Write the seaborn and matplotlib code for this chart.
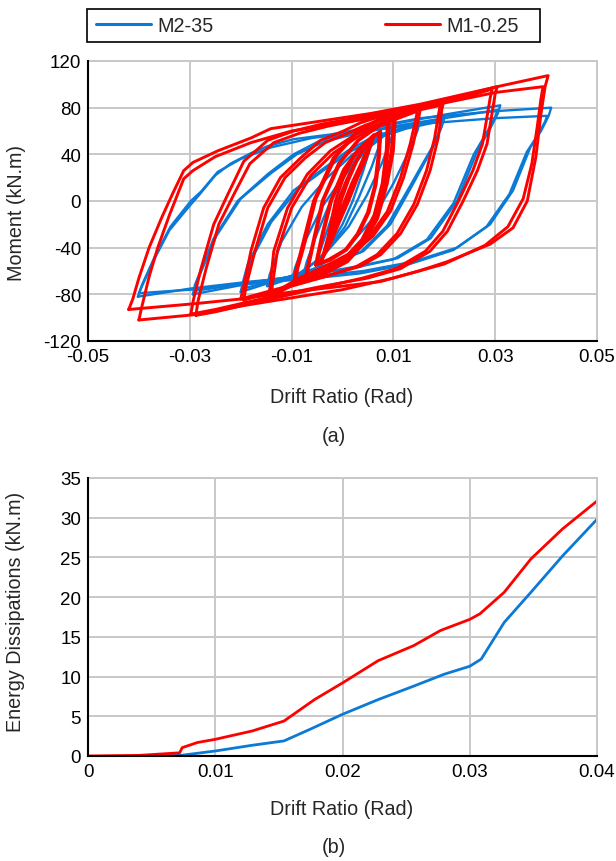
import numpy as np
import pandas as pd
import matplotlib
matplotlib.use("Agg")
import matplotlib.pyplot as plt
import seaborn as sns
from matplotlib.lines import Line2D
from matplotlib.patches import Rectangle

# ---------------- data ----------------
SERIES = ["M2-35", "M1-0.25"]
COLORS = ["#0a7ad6", "#ff0000"]

X_TICKS_A = [-0.05, -0.03, -0.01, 0.01, 0.03, 0.05]
X_LABELS_A = ["-0.05", "-0.03", "-0.01", "0.01", "0.03", "0.05"]
Y_TICKS_A = [-120, -80, -40, 0, 40, 80, 120]
X_TICKS_B = [0, 0.01, 0.02, 0.03, 0.04]
X_LABELS_B = ["0", "0.01", "0.02", "0.03", "0.04"]
Y_TICKS_B = [0, 5, 10, 15, 20, 25, 30, 35]

# --- M1-0.25 (red) hysteresis cycles: drift (rad), moment (kN.m)
R40A_D = [-0.0420, -0.0412, -0.0400, -0.0380, -0.0355, -0.0333, -0.0312, -0.0294, -0.0245, -0.0180, -0.0141, -0.0050, 0.0055, 0.0153, 0.0304, 0.0404,
          0.0398, 0.0390, 0.0380, 0.0363, 0.0335, 0.0290, 0.0206, 0.0150, 0.0075, 0.0000, -0.0100, -0.0200, -0.0290, -0.0420]
R40A_M = [-93, -84, -66, -40, -14, 7, 26, 33, 43, 54, 62, 68, 75, 83, 98, 107.5,
          98, 75, 38, 0, -23, -37, -52, -60, -69, -73, -78, -84, -88, -93]
R40B_D = [-0.0400, -0.0395, -0.0380, -0.0363, -0.0340, -0.0312, -0.0294, -0.0250, -0.0180, -0.0100, 0.0000, 0.0100, 0.0200, 0.0300, 0.0394,
          0.0390, 0.0383, 0.0372, 0.0355, 0.0325, 0.0280, 0.0200, 0.0100, 0.0000, -0.0100, -0.0200, -0.0280, -0.0400]
R40B_M = [-102, -92, -65, -40, -12, 19, 26, 38, 50, 60, 67, 75, 84, 93, 98,
          88, 65, 32, 2, -22, -38, -54, -66, -76, -83, -90, -97, -102]
R30A_D = [-0.0298, -0.0293, -0.0278, -0.0253, -0.0225, -0.0194, -0.0147, -0.0096, -0.0040, 0.0050, 0.0150, 0.0250, 0.0304,
          0.0300, 0.0284, 0.0265, 0.0237, 0.0206, 0.0172, 0.0114, 0.0050, -0.0050, -0.0150, -0.0250, -0.0298]
R30A_M = [-97, -85, -58, -20, 6, 34, 52, 60, 66, 73, 82, 92, 98,
          92, 49, 26, 0, -26, -43, -58, -66, -74, -83, -93, -97]
R30B_D = [-0.0288, -0.0284, -0.0268, -0.0243, -0.0213, -0.0182, -0.0135, -0.0085, -0.0030, 0.0050, 0.0150, 0.0250, 0.0294,
          0.0290, 0.0275, 0.0256, 0.0228, 0.0197, 0.0163, 0.0105, 0.0040, -0.0050, -0.0150, -0.0250, -0.0288]
R30B_M = [-98, -86, -58, -20, 6, 32, 50, 58, 64, 71, 80, 90, 96,
          88, 49, 26, 0, -26, -43, -58, -66, -75, -85, -95, -98]
R20A_D = [-0.0200, -0.0195, -0.0180, -0.0155, -0.0122, -0.0082, -0.0043, 0.0002, 0.0035, 0.0100, 0.0198,
          0.0195, 0.0188, 0.0172, 0.0147, 0.0114, 0.0075, 0.0035, -0.0030, -0.0100, -0.0200]
R20A_M = [-84, -75, -43, -6, 20, 37, 52, 60, 67, 76, 84,
          78, 54, 26, -3, -28, -46, -56, -64, -72, -84]
R20B_D = [-0.0194, -0.0190, -0.0172, -0.0147, -0.0113, -0.0073, -0.0034, 0.0010, 0.0045, 0.0100, 0.0192,
          0.0189, 0.0181, 0.0165, 0.0140, 0.0107, 0.0068, 0.0028, -0.0035, -0.0100, -0.0194]
R20B_M = [-85, -74, -43, -6, 20, 37, 50, 58, 65, 73, 82,
          75, 54, 26, -3, -28, -46, -56, -65, -73, -85]
R15A_D = [-0.0145, -0.0142, -0.0135, -0.0108, -0.0069, -0.0024, 0.0029, 0.0080, 0.0153,
          0.0150, 0.0139, 0.0120, 0.0094, 0.0060, 0.0020, -0.0030, -0.0080, -0.0145]
R15A_M = [-83, -72, -43, -6, 23, 43, 58, 68, 79,
          72, 49, 20, -9, -30, -45, -58, -68, -83]
R15B_D = [-0.0140, -0.0137, -0.0128, -0.0100, -0.0062, -0.0018, 0.0033, 0.0080, 0.0147,
          0.0144, 0.0133, 0.0114, 0.0088, 0.0054, 0.0014, -0.0035, -0.0085, -0.0140]
R15B_M = [-80, -70, -43, -6, 22, 41, 56, 66, 77,
          70, 49, 20, -9, -30, -45, -56, -66, -80]
R10A_D = [-0.0096, -0.0092, -0.0082, -0.0057, -0.0018, 0.0029, 0.0075, 0.0104,
          0.0100, 0.0088, 0.0069, 0.0041, 0.0010, -0.0037, -0.0096]
R10A_M = [-71, -60, -43, 0, 37, 60, 71, 73,
          43, 15, -15, -37, -52, -63, -71]
R10B_D = [-0.0092, -0.0088, -0.0077, -0.0052, -0.0013, 0.0032, 0.0075, 0.0100,
          0.0096, 0.0084, 0.0065, 0.0037, 0.0006, -0.0038, -0.0092]
R10B_M = [-69, -58, -41, 2, 38, 60, 70, 71,
          43, 15, -15, -37, -51, -61, -69]
R07A_D = [-0.0073, -0.0068, -0.0058, -0.0040, -0.0008, 0.0030, 0.0068, 0.0092,
          0.0090, 0.0082, 0.0066, 0.0042, 0.0012, -0.0030, -0.0073]
R07A_M = [-66, -55, -35, 0, 32, 52, 64, 69,
          45, 15, -12, -33, -48, -59, -66]
R07B_D = [-0.0070, -0.0065, -0.0055, -0.0036, -0.0004, 0.0032, 0.0068, 0.0088,
          0.0086, 0.0078, 0.0062, 0.0038, 0.0008, -0.0032, -0.0070]
R07B_M = [-64, -53, -33, 2, 33, 52, 63, 67,
          44, 15, -12, -33, -47, -58, -64]
R05A_D = [-0.0053, -0.0049, -0.0040, -0.0024, 0.0002, 0.0030, 0.0058, 0.0075,
          0.0073, 0.0066, 0.0052, 0.0032, 0.0008, -0.0025, -0.0053]
R05A_M = [-55, -46, -28, 0, 27, 44, 55, 60,
          40, 14, -10, -28, -42, -51, -55]
R05B_D = [-0.0050, -0.0046, -0.0037, -0.0021, 0.0005, 0.0032, 0.0058, 0.0072,
          0.0070, 0.0063, 0.0049, 0.0029, 0.0005, -0.0027, -0.0050]
R05B_M = [-54, -45, -27, 1, 27, 44, 54, 58,
          39, 13, -10, -28, -42, -50, -54]
RC1_D = [-0.0043, -0.0038, -0.0028, -0.0014, 0.0002, 0.0020, 0.0040, 0.0062,
         0.0058, 0.0046, 0.0030, 0.0012, -0.0006, -0.0025, -0.0043]
RC1_M = [-52, -46, -30, 0, 20, 36, 48, 57,
         50, 36, 20, 0, -18, -38, -52]
RC2_D = [-0.0040, -0.0035, -0.0024, -0.0008, 0.0008, 0.0026, 0.0045, 0.0060,
         0.0054, 0.0040, 0.0024, 0.0008, -0.0010, -0.0028, -0.0040]
RC2_M = [-50, -43, -28, 0, 18, 34, 47, 55,
         48, 34, 18, 0, -18, -38, -50]
RC3_D = [-0.0038, -0.0030, -0.0018, -0.0003, 0.0012, 0.0030, 0.0048, 0.0058,
         0.0050, 0.0034, 0.0018, 0.0004, -0.0012, -0.0028, -0.0038]
RC3_M = [-48, -38, -22, 0, 18, 36, 50, 54,
         46, 30, 15, 0, -17, -36, -48]

# --- M2-35 (blue) hysteresis cycles
B40A_D = [-0.0402, -0.0395, -0.0370, -0.0340, -0.0300, -0.0282, -0.0250, -0.0220, -0.0180, -0.0147, -0.0096, -0.0024, 0.0055, 0.0153, 0.0300, 0.0410,
          0.0405, 0.0390, 0.0369, 0.0335, 0.0290, 0.0225, 0.0139, 0.0041, -0.0024, -0.0180, -0.0298, -0.0402]
B40A_M = [-82, -74, -50, -25, -4, 5, 22, 32, 41, 47, 53, 57, 63, 71, 77, 80,
          73, 60, 46, 9, -20, -40, -52, -60, -63, -69, -75, -82]
B40B_D = [-0.0400, -0.0393, -0.0368, -0.0338, -0.0298, -0.0278, -0.0245, -0.0200, -0.0140, -0.0060, 0.0050, 0.0150, 0.0300, 0.0402,
          0.0398, 0.0383, 0.0362, 0.0328, 0.0283, 0.0218, 0.0132, 0.0035, -0.0030, -0.0180, -0.0298, -0.0400]
B40B_M = [-79, -71, -47, -22, 0, 8, 25, 36, 46, 54, 60, 66, 71, 73,
          68, 56, 42, 6, -22, -42, -54, -62, -65, -71, -76, -79]
B30A_D = [-0.0294, -0.0290, -0.0253, -0.0206, -0.0147, -0.0096, -0.0043, 0.0010, 0.0100, 0.0200, 0.0310,
          0.0305, 0.0290, 0.0265, 0.0225, 0.0173, 0.0108, 0.0030, -0.0024, -0.0150, -0.0294]
B30A_M = [-80, -72, -32, 0, 23, 40, 52, 58, 66, 74, 82,
          75, 62, 43, 0, -32, -49, -56, -60, -68, -80]
B30B_D = [-0.0290, -0.0286, -0.0248, -0.0200, -0.0140, -0.0090, -0.0035, 0.0020, 0.0100, 0.0200, 0.0305,
          0.0300, 0.0285, 0.0258, 0.0218, 0.0166, 0.0100, 0.0025, -0.0030, -0.0150, -0.0290]
B30B_M = [-77, -69, -30, 2, 24, 40, 51, 57, 64, 71, 78,
          72, 60, 40, -2, -33, -50, -57, -61, -68, -77]
B20A_D = [-0.0200, -0.0196, -0.0186, -0.0147, -0.0096, -0.0043, 0.0010, 0.0060, 0.0120, 0.0200,
          0.0195, 0.0180, 0.0160, 0.0139, 0.0094, 0.0041, -0.0024, -0.0100, -0.0200]
B20A_M = [-78, -70, -54, -20, 9, 26, 43, 55, 63, 71,
          64, 48, 32, 15, -20, -43, -54, -64, -78]
B20B_D = [-0.0195, -0.0191, -0.0180, -0.0140, -0.0088, -0.0035, 0.0018, 0.0068, 0.0125, 0.0198,
          0.0193, 0.0176, 0.0155, 0.0133, 0.0088, 0.0035, -0.0030, -0.0105, -0.0195]
B20B_M = [-75, -67, -51, -18, 10, 27, 43, 54, 62, 69,
          62, 46, 30, 13, -21, -44, -55, -65, -75]
B15_D = [-0.0148, -0.0143, -0.0120, -0.0080, -0.0030, 0.0020, 0.0080, 0.0152,
         0.0147, 0.0130, 0.0100, 0.0060, 0.0010, -0.0050, -0.0100, -0.0148]
B15_M = [-73, -63, -35, -5, 20, 40, 56, 68,
         60, 42, 15, -15, -40, -57, -66, -73]
B10_D = [-0.0098, -0.0093, -0.0072, -0.0040, 0.0000, 0.0050, 0.0102,
         0.0097, 0.0078, 0.0048, 0.0012, -0.0040, -0.0098]
B10_M = [-66, -57, -33, -5, 20, 45, 63,
         55, 33, 5, -22, -48, -66]
B07_D = [-0.0075, -0.0070, -0.0052, -0.0028, 0.0005, 0.0040, 0.0078,
         0.0074, 0.0058, 0.0032, 0.0005, -0.0035, -0.0075]
B07_M = [-60, -52, -30, -5, 22, 45, 58,
         50, 30, 3, -22, -45, -60]
B05_D = [-0.0050, -0.0045, -0.0030, -0.0010, 0.0015, 0.0040, 0.0055,
         0.0052, 0.0040, 0.0020, 0.0000, -0.0025, -0.0050]
B05_M = [-52, -44, -25, 0, 25, 42, 50,
         42, 25, 0, -20, -38, -52]

# --- cumulative energy dissipation (b)
E_RED_D = [0.0, 0.0040, 0.0072, 0.0074, 0.0086, 0.0100, 0.0129, 0.0154, 0.0178, 0.0200, 0.0228, 0.0256, 0.0277, 0.0300, 0.0308, 0.0327, 0.0348, 0.0373, 0.0400]
E_RED = [0.0, 0.08, 0.4, 1.05, 1.7, 2.1, 3.15, 4.4, 7.1, 9.2, 12.0, 13.9, 15.8, 17.2, 17.9, 20.6, 24.8, 28.6, 32.1]
E_BLUE_D = [0.0040, 0.0073, 0.0100, 0.0129, 0.0154, 0.0175, 0.0200, 0.0228, 0.0256, 0.0280, 0.0300, 0.0309, 0.0327, 0.0348, 0.0373, 0.0400]
E_BLUE = [0.0, 0.08, 0.63, 1.35, 1.9, 3.4, 5.25, 7.1, 8.8, 10.3, 11.3, 12.2, 16.8, 20.6, 25.2, 29.8]

BLUE_CYCLES = [(B40A_D, B40A_M), (B40B_D, B40B_M), (B30A_D, B30A_M), (B30B_D, B30B_M),
               (B20A_D, B20A_M), (B20B_D, B20B_M), (B15_D, B15_M), (B10_D, B10_M),
               (B07_D, B07_M), (B05_D, B05_M)]
RED_CYCLES = [(R40A_D, R40A_M), (R40B_D, R40B_M), (R30A_D, R30A_M), (R30B_D, R30B_M),
              (R20A_D, R20A_M), (R20B_D, R20B_M), (R15A_D, R15A_M), (R15B_D, R15B_M),
              (R10A_D, R10A_M), (R10B_D, R10B_M), (R07A_D, R07A_M), (R07B_D, R07B_M),
              (R05A_D, R05A_M), (R05B_D, R05B_M), (RC1_D, RC1_M), (RC2_D, RC2_M), (RC3_D, RC3_M)]

# ---------------- style ----------------
sns.set_style("white")
plt.rcParams["font.family"] = ["Liberation Sans", "DejaVu Sans"]
FS_TICK = 13.5
FS_LAB = 14.2
GRID_C = "#c8c8c8"

W, H = 616, 862
fig = plt.figure(figsize=(W / 100, H / 100), dpi=100)
ax1 = fig.add_axes([88 / W, 1 - 342 / H, (597 - 88) / W, (342 - 62) / H])
ax2 = fig.add_axes([88 / W, 1 - 757 / H, (597 - 88) / W, (757 - 479) / H])


def hyst_frame(series, cycles):
    rows = []
    for k, (d, m) in enumerate(cycles):
        for x, y in zip(d, m):
            rows.append({"series": series, "cycle": k, "drift": x, "moment": y})
    return pd.DataFrame(rows)


df_blue = hyst_frame(SERIES[0], BLUE_CYCLES)
df_red = hyst_frame(SERIES[1], RED_CYCLES)

sns.lineplot(data=df_blue, x="drift", y="moment", units="cycle", estimator=None, sort=False,
             color=COLORS[0], lw=1.7, solid_joinstyle="round", legend=False, ax=ax1)
sns.lineplot(data=df_red, x="drift", y="moment", units="cycle", estimator=None, sort=False,
             color=COLORS[1], lw=2.1, solid_joinstyle="round", legend=False, ax=ax1)

df_e = pd.concat([
    pd.DataFrame({"series": SERIES[0], "drift": E_BLUE_D, "energy": E_BLUE}),
    pd.DataFrame({"series": SERIES[1], "drift": E_RED_D, "energy": E_RED}),
])
sns.lineplot(data=df_e, x="drift", y="energy", hue="series", hue_order=SERIES, palette=COLORS,
             estimator=None, sort=False, lw=2.0, legend=False, ax=ax2, clip_on=True)

for ax in (ax1, ax2):
    ax.grid(True, color=GRID_C, lw=1.4)
    ax.set_axisbelow(True)
    for s in ("left", "bottom"):
        ax.spines[s].set_color("black")
        ax.spines[s].set_linewidth(1.5)
        ax.spines[s].set_zorder(5)
    for s in ("top", "right"):
        ax.spines[s].set_color(GRID_C)
        ax.spines[s].set_linewidth(1.4)
    ax.tick_params(length=0, labelsize=FS_TICK, pad=5, colors="black")
    ax.set_xlabel("")
    ax.set_ylabel("")

ax1.set_xlim(-0.05, 0.05)
ax1.set_ylim(-120, 120)
ax1.set_xticks(X_TICKS_A)
ax1.set_xticklabels(X_LABELS_A)
ax1.set_yticks(Y_TICKS_A)
ax1.set_yticklabels([str(v) for v in Y_TICKS_A])

ax2.set_xlim(0, 0.04)
ax2.set_ylim(0, 35)
ax2.set_xticks(X_TICKS_B)
ax2.set_xticklabels(X_LABELS_B)
ax2.set_yticks(Y_TICKS_B)
ax2.set_yticklabels([str(v) for v in Y_TICKS_B])

# labels
fig.text(17 / W, 1 - 213 / H, "Moment (kN.m)", rotation=90, ha="center", va="center", fontsize=FS_LAB)
fig.text(342 / W, 1 - 398 / H, "Drift Ratio (Rad)", ha="center", va="center", fontsize=FS_LAB)
fig.text(334 / W, 1 - 437 / H, "(a)", ha="center", va="center", fontsize=FS_LAB)
fig.text(16 / W, 1 - 612 / H, "Energy Dissipations (kN.m)", rotation=90, ha="center", va="center", fontsize=FS_LAB)
fig.text(342 / W, 1 - 810 / H, "Drift Ratio (Rad)", ha="center", va="center", fontsize=FS_LAB)
fig.text(334 / W, 1 - 848 / H, "(b)", ha="center", va="center", fontsize=FS_LAB)

# legend (frame drawn separately to match the reference box)
handles = [Line2D([], [], color=COLORS[0], lw=2.2), Line2D([], [], color=COLORS[1], lw=2.2)]
leg = fig.legend(handles, SERIES, loc="center left", ncol=2,
                 bbox_to_anchor=(87 / W, 1 - 26.5 / H), borderaxespad=0,
                 frameon=False, fontsize=FS_LAB, handlelength=2.8, handletextpad=0.3,
                 borderpad=0.45, columnspacing=8.7)
fig.add_artist(Rectangle((87 / W, 1 - 43 / H), 453 / W, 33 / H, transform=fig.transFigure,
                         fill=False, edgecolor="black", lw=1.2))

fig.savefig("out.png", dpi=100)
